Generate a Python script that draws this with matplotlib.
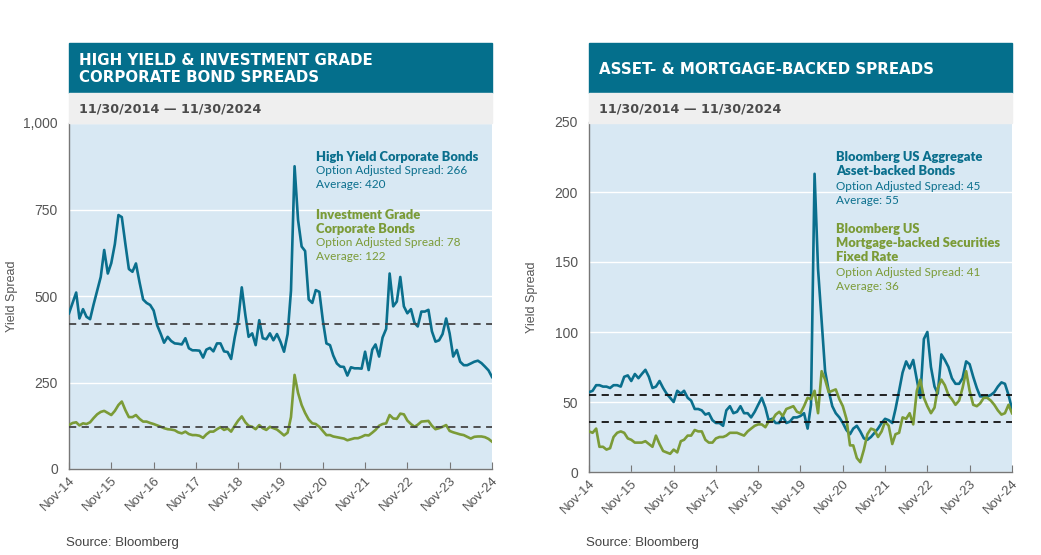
import numpy as np
import pandas as pd
import matplotlib

matplotlib.use("Agg")
import matplotlib.pyplot as plt
import matplotlib.dates as mdates
from matplotlib.patches import Rectangle

# monthly option-adjusted spreads, 11/2014 .. 11/2024
high_yield = [
    450, 480, 510, 435, 462, 440, 433, 475, 515, 555, 633, 565,
    595, 650, 734, 728, 650, 578, 570, 594, 540, 490, 480, 474,
    458, 415, 390, 365, 382, 370, 363, 362, 360, 378, 349, 343,
    343, 342, 322, 345, 350, 340, 363, 363, 340, 338, 318, 380,
    430, 525, 445, 382, 392, 358, 430, 378, 375, 392, 372, 390,
    368, 339, 390, 515, 875, 720, 643, 630, 490, 480, 517, 512,
    430, 363, 358, 328, 305, 296, 295, 270, 294, 291, 291, 290,
    339, 286, 345, 360, 325, 380, 405, 565, 470, 484, 555, 470,
    450, 462, 422, 412, 455, 455, 460, 398, 368, 372, 390, 435,
    392, 325, 344, 310, 300, 300, 305, 310, 313, 306, 296, 285,
    266,
]
inv_grade = [
    127, 133, 135, 126, 132, 130, 135, 147, 158, 165, 168, 162,
    156, 168, 185, 195, 170, 150, 150, 156, 145, 137, 137, 133,
    130, 126, 122, 118, 115, 114, 112, 106, 103, 108, 101, 98,
    98, 96, 90, 100, 108, 108, 115, 121, 113, 117, 108, 125,
    140, 152, 135, 125, 122, 115, 127, 118, 113, 122, 118, 114,
    106, 97, 105, 150, 272, 220, 185, 162, 143, 132, 130, 122,
    110, 98, 98, 94, 92, 90, 88, 83, 86, 89, 89, 93,
    98, 97, 105, 113, 125, 130, 132, 156, 146, 145, 160, 158,
    140, 130, 122, 128, 137, 138, 139, 125, 115, 118, 122, 127,
    110, 106, 103, 100, 98, 93, 88, 93, 94, 94, 92, 87,
    79,
]
asset_backed = [
    57, 58, 62, 62, 61, 61, 60, 62, 62, 61, 68, 69,
    65, 70, 67, 70, 73, 68, 60, 61, 65, 60, 56, 53,
    50, 58, 56, 58, 53, 51, 45, 45, 44, 41, 42, 37,
    35, 35, 33, 44, 47, 42, 43, 47, 42, 42, 39, 43,
    48, 53, 46, 37, 38, 35, 35, 40, 35, 36, 39, 39,
    40, 42, 31, 48, 213, 145, 108, 72, 58, 47, 42, 39,
    35, 30, 27, 31, 33, 29, 24, 23, 25, 28, 31, 35,
    38, 37, 35, 45, 58, 71, 79, 74, 80, 66, 53, 95,
    100, 75, 61, 56, 84, 80, 75, 67, 63, 63, 67, 79,
    77, 68, 60, 54, 54, 54, 55, 57, 61, 64, 63, 55,
    45,
]
mortgage_backed = [
    29, 28, 31, 18, 18, 16, 17, 25, 28, 29, 28, 24,
    23, 21, 21, 21, 22, 20, 18, 26, 20, 15, 14, 13,
    16, 14, 22, 23, 26, 26, 30, 29, 29, 23, 21, 21,
    24, 25, 25, 26, 28, 28, 28, 27, 26, 29, 31, 33,
    34, 34, 32, 36, 37, 41, 43, 40, 45, 46, 47, 43,
    42, 47, 53, 52, 58, 42, 72, 66, 57, 58, 59, 52,
    47, 38, 19, 19, 10, 7, 16, 27, 31, 30, 25, 29,
    36, 33, 20, 27, 28, 39, 38, 42, 34, 58, 66, 53,
    47, 42, 46, 60, 66, 62, 55, 52, 48, 51, 60, 72,
    58, 48, 47, 49, 53, 53, 51, 48, 44, 41, 42, 48,
    42,
]
hy_avg, ig_avg = 420, 122
abs_avg, mbs_avg = 55, 36

dates = pd.date_range("2014-11-30", periods=len(high_yield), freq="ME")
tick_dates = pd.date_range("2014-11-30", "2024-11-30", freq="12ME")

TEAL = "#0a6f8d"
HEADER = "#046f8c"
GREEN = "#7b9b37"
PLOT_BG = "#d8e8f3"
BAND = "#efefef"
AXIS_GRAY = "#777777"
TEXT_GRAY = "#555555"

W, H = 1041, 555
fig = plt.figure(figsize=(W / 100, H / 100), dpi=100)
fig.patch.set_facecolor("white")


def fx(px):
    return px / W


def fy(py):
    return 1 - py / H


def panel(x0, x1, y_top, y_bot, title, series, averages, avg_color, yticks, ytick_labels, notes):
    # header block and date band
    fig.patches.append(Rectangle((fx(x0), fy(93)), fx(x1 - x0), (93 - 43) / H,
                                 transform=fig.transFigure, color=HEADER, zorder=0))
    fig.patches.append(Rectangle((fx(x0), fy(123)), fx(x1 - x0), 30 / H,
                                 transform=fig.transFigure, color=BAND, zorder=0))
    fig.text(fx(x0 + 10), fy(69), title, color="white", fontsize=10.8, fontweight="bold",
             family="DejaVu Sans", va="center", ha="left", linespacing=1.2)
    fig.text(fx(x0 + 10), fy(109), "11/30/2014 \u2014 11/30/2024", color="#4a4a4a",
             fontsize=9.2, fontweight="bold", family="DejaVu Sans", va="center")

    ax = fig.add_axes([fx(x0), fy(y_bot), fx(x1 - x0), (y_bot - y_top) / H])
    ax.set_facecolor(PLOT_BG)
    for values, color in series:
        ax.plot(dates, values, color=color, linewidth=1.9, zorder=3, solid_joinstyle="round")
    for value in averages:
        ax.axhline(value, color=avg_color, linestyle=(0, (4, 3)), linewidth=1.3, zorder=4)

    ax.set_ylim(yticks[0], yticks[-1])
    ax.set_yticks(yticks)
    ax.set_yticklabels(ytick_labels)
    ax.yaxis.grid(True, color="white", linewidth=1.0)
    ax.set_axisbelow(True)
    ax.set_xlim(dates[0], dates[-1])
    ax.set_xticks(tick_dates)
    ax.xaxis.set_major_formatter(mdates.DateFormatter("%b-%y"))
    ax.tick_params(axis="x", direction="in", length=5, color=AXIS_GRAY, labelcolor=TEXT_GRAY,
                   labelsize=9.5, pad=4)
    ax.tick_params(axis="y", length=0, labelcolor=TEXT_GRAY, labelsize=10, pad=8)
    for label in ax.get_xticklabels():
        label.set_rotation(45)
        label.set_ha("right")
        label.set_rotation_mode("anchor")
        label.set_family("Liberation Sans")
    for label in ax.get_yticklabels():
        label.set_family("Liberation Sans")
    for side in ("top", "right"):
        ax.spines[side].set_visible(False)
    for side in ("left", "bottom"):
        ax.spines[side].set_color(AXIS_GRAY)
        ax.spines[side].set_linewidth(1.0)
    ax.set_ylabel("Yield Spread", color=TEXT_GRAY, fontsize=9, family="Liberation Sans")
    ax.yaxis.set_label_coords(-0.12, 0.5)

    note_x = x0 + 0.585 * (x1 - x0)
    for text, y, color, weight in notes:
        size = 9.3 if weight == "heavy" else 8.5
        fig.text(fx(note_x), fy(y), text, color=color, fontsize=size, fontweight=weight,
                 family="Lato", va="center")

    fig.text(fx(x0 - 3), fy(543), "Source: Bloomberg", color="#444444", fontsize=9.5,
             family="Liberation Sans", va="center")
    return ax


panel(
    69, 492, 123, 469,
    "HIGH YIELD & INVESTMENT GRADE\nCORPORATE BOND SPREADS",
    [(high_yield, TEAL), (inv_grade, GREEN)],
    [hy_avg, ig_avg], "#444444",
    [0, 250, 500, 750, 1000], ["0", "250", "500", "750", "1,000"],
    [
        ("High Yield Corporate Bonds", 157, TEAL, "heavy"),
        ("Option Adjusted Spread: 266", 171, TEAL, "normal"),
        ("Average: 420", 185, TEAL, "normal"),
        ("Investment Grade", 215, GREEN, "heavy"),
        ("Corporate Bonds", 229, GREEN, "heavy"),
        ("Option Adjusted Spread: 78", 243, GREEN, "normal"),
        ("Average: 122", 257, GREEN, "normal"),
    ],
)

panel(
    589, 1012, 122, 472,
    "ASSET- & MORTGAGE-BACKED SPREADS",
    [(asset_backed, TEAL), (mortgage_backed, GREEN)],
    [abs_avg, mbs_avg], "#111111",
    [0, 50, 100, 150, 200, 250], ["0", "50", "100", "150", "200", "250"],
    [
        ("Bloomberg US Aggregate", 157, TEAL, "heavy"),
        ("Asset-backed Bonds", 171, TEAL, "heavy"),
        ("Option Adjusted Spread: 45", 186, TEAL, "normal"),
        ("Average: 55", 200, TEAL, "normal"),
        ("Bloomberg US", 229, GREEN, "heavy"),
        ("Mortgage-backed Securities", 243, GREEN, "heavy"),
        ("Fixed Rate", 257, GREEN, "heavy"),
        ("Option Adjusted Spread: 41", 272, GREEN, "normal"),
        ("Average: 36", 286, GREEN, "normal"),
    ],
)

fig.savefig("out.png", dpi=100, facecolor="white")
